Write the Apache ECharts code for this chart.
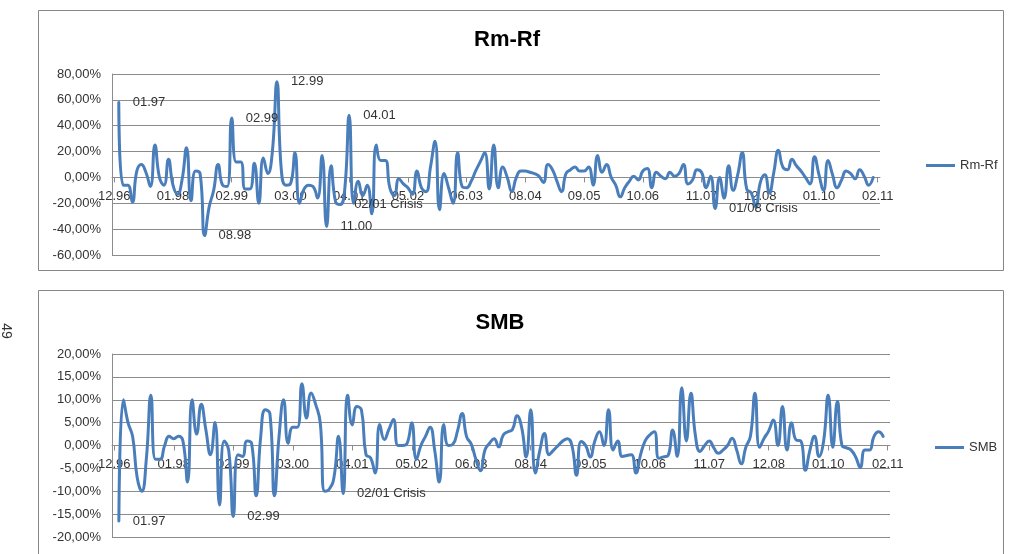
<!DOCTYPE html>
<html lang="en">
<head>
    <meta charset="UTF-8">
    <title>Rm-Rf / SMB</title>
    <script src="https://cdn.jsdelivr.net/npm/echarts@6.0.0/dist/echarts.min.js"></script>
    <style>
        body, html {
            margin: 0;
            padding: 0;
            background: #fff;
        }
        #main {
            width: 1011px;
            height: 554px;
        }
    </style>
</head>
<body>
    <div id="main"></div>
    <script>
        // labels every 13 months on the category axis
        var tickLabels = ['12.96', '01.98', '02.99', '03.00', '04.01', '05.02', '06.03',
            '08.04', '09.05', '10.06', '11.07', '12.08', '01.10', '02.11'];

        // monthly values in %, index 0 = 12.96
        var rmRf = [
            null, 58, -6, -6, -19, 5, 10, 4, -7, 25,
            0, -6, 14, -6, -13, -2, 23, -18, 5, 3,
            -45, -23, -10, 10, -6, -7, 46, 12, 12, -9,
            -9, 11, -20, 15, 3, 20, 74, 5, -6, -5,
            19, -20, -9, -6, -7, -16, 17, -38, 9, -19,
            -21, -10, 48, -20, -3, -14, -6, -28, 25, 13,
            13, -8, -14, -1, -5, -8, -13, 5, -8, -11,
            8, 28, -25, 3, -8, -20, 19, -7, -8, -3,
            5, 12, 19, -9, 25, -8, 8, 0, -11, 0,
            5, 5, 4, 3, 1, -4, 10, 6, -3, -11,
            3, 6, 8, 5, 5, 8, -6, 17, 4, 10,
            0, -6, -15, -8, -3, 1, -2, 5, 7, -8,
            4, 1, -1, 4, 1, 3, 10, -5, -2, 6,
            4, -8, 1, -24, 0, -16, 9, -10, 2, 19,
            -9, -12, -23, -4, 2, -12, 4, 21, 8, 6,
            14, 9, 5, 0, -5, 16, 2, -10, 13, 2,
            -8, -2, 5, 3, -1, 6, 1, -6, 0, null
        ];

        var smb = [
            null, -16.5, 10, 5, 2, -7, -10, -3, 11, -3,
            -3, 0, 2, 1.5, 2, 1, -8, 10, 2.5, 9,
            3.5, -2, 5, -13, 1, -1, -15.5, -2, -2.4, 1,
            0.5, -11, 2, 7.8, 7, -11, 2, 10, 0.5, 4,
            4, 13.5, 6, 11.5, 9, 5, -10, -9.5, -7, 2,
            -10.5, 11, 4.5, 8.5, 7.8, -2, -2.7, -6, 4.6, 1.3,
            3.5, 5.7, 0, 0, 0.5, 5, -3, 0, 2, 4,
            -1, -8, 4.6, 0, 0.3, 3.2, 7, 1.9, 0.3, -3,
            -5.5, -1, 0.5, 1.5, -0.3, 2.3, 3, 3.5, 6.5, 4,
            -2.5, 7.8, -6, -1, 2.6, -2, -1, 0, 1, 1.5,
            0, -6.5, 0.9, 0, -2.5, 1, 3, 0, 7.8, -1,
            1, -2.4, -2.2, -2, -6, -2, 1, 2.3, 3, -2.8,
            -2.5, -2.2, 3.4, -2.4, 12.6, 1, 11.4, 2, -1.3, 0,
            1, -0.5, -1.7, -1, 0, 1.6, -1, -4, -0.4, 2,
            11.4, -0.4, 1.6, 3.2, 5.6, 0, 8.5, -1, 5, 1.2,
            1, -5.4, -1, 2, -2.4, 1, 11, -0.4, 9.6, 0,
            -0.5, -1, -2.5, -4.8, -1, -1, 2, 3, 2, null
        ];

        // point annotations: [month index, text]
        var rmRfNotes = [[1, '01.97'], [20, '08.98'], [26, '02.99'], [36, '12.99'],
            [47, '11.00'], [50, '02/01 Crisis'], [52, '04.01'], [133, '01/08 Crisis']];
        var smbNotes = [[1, '01.97'], [26, '02.99'], [50, '02/01 Crisis']];

        var months = rmRf.map(function (v, i) { return String(i); });

        var blue = '#4a7ebb';
        var gridGray = '#8c8c8c';
        var textColor = '#333';
        var font = 'Liberation Sans';

        var grids = [
            { left: 112, top: 74, width: 768, height: 181 },
            { left: 112, top: 354, width: 778, height: 183 }
        ];
        var ranges = [[-60, 80, 20], [-20, 20, 5]];

        function withNotes(values, notes) {
            var data = values.slice();
            notes.forEach(function (n) {
                data[n[0]] = {
                    value: values[n[0]],
                    label: { show: true, formatter: n[1] }
                };
            });
            return data;
        }

        function pct(v) {
            return v.toFixed(2).replace('.', ',') + '%';
        }

        // category axis crosses the value axis at 0, labels sit just under it
        function xAxisFor(i) {
            var r = ranges[i];
            var lift = grids[i].height * (0 - r[0]) / (r[1] - r[0]);
            return {
                type: 'category',
                gridIndex: i,
                data: months,
                boundaryGap: true,
                offset: -lift,
                axisLine: { onZero: false, lineStyle: { color: gridGray, width: 1 } },
                axisTick: { show: true, interval: 12, alignWithLabel: true, length: 5, lineStyle: { color: gridGray } },
                axisLabel: {
                    interval: 12,
                    margin: 12,
                    color: textColor,
                    fontFamily: font,
                    fontSize: 13,
                    formatter: function (v, k) { return tickLabels[k / 13]; }
                },
                splitLine: { show: false }
            };
        }

        function yAxisFor(i) {
            var r = ranges[i];
            return {
                type: 'value',
                gridIndex: i,
                min: r[0],
                max: r[1],
                interval: r[2],
                axisLine: { show: true, onZero: false, lineStyle: { color: gridGray } },
                axisTick: { show: false },
                axisLabel: { formatter: pct, color: textColor, fontFamily: font, fontSize: 13, margin: 11 },
                splitLine: { show: true, lineStyle: { color: gridGray, width: 1 } }
            };
        }

        function lineSeries(name, values, notes, idx) {
            return {
                name: name,
                type: 'line',
                xAxisIndex: idx,
                yAxisIndex: idx,
                data: withNotes(values, notes),
                smooth: 0.5,
                symbol: 'circle',
                symbolSize: 0,
                showAllSymbol: true,
                connectNulls: false,
                color: blue,
                lineStyle: { color: blue, width: 3, join: 'round', cap: 'round' },
                label: {
                    show: false,
                    position: 'right',
                    distance: 14,
                    color: textColor,
                    fontFamily: font,
                    fontSize: 13
                },
                emphasis: { disabled: true },
                z: 3
            };
        }

        var option = {
            backgroundColor: '#fff',
            animation: false,
            textStyle: { fontFamily: font },
            title: [
                { text: 'Rm-Rf', left: 502, top: 24, textAlign: 'center',
                  textStyle: { fontSize: 22, fontWeight: 'bold', color: '#000', fontFamily: font } },
                { text: 'SMB', left: 495, top: 307, textAlign: 'center',
                  textStyle: { fontSize: 22, fontWeight: 'bold', color: '#000', fontFamily: font } }
            ],
            legend: [
                { data: ['Rm-Rf'], left: 921, top: 154, icon: 'rect', itemWidth: 29, itemHeight: 3,
                  textStyle: { color: textColor, fontSize: 13, fontFamily: font } },
                { data: ['SMB'], left: 930, top: 436, icon: 'rect', itemWidth: 29, itemHeight: 3,
                  textStyle: { color: textColor, fontSize: 13, fontFamily: font } }
            ],
            grid: grids,
            xAxis: [xAxisFor(0), xAxisFor(1)],
            yAxis: [yAxisFor(0), yAxisFor(1)],
            series: [
                lineSeries('Rm-Rf', rmRf, rmRfNotes, 0),
                lineSeries('SMB', smb, smbNotes, 1)
            ],
            graphic: [
                { type: 'rect', shape: { x: 38.5, y: 10.5, width: 965, height: 260 },
                  style: { fill: 'none', stroke: '#868686', lineWidth: 1 }, silent: true },
                { type: 'rect', shape: { x: 38.5, y: 290.5, width: 965, height: 280 },
                  style: { fill: 'none', stroke: '#868686', lineWidth: 1 }, silent: true },
                { type: 'text', x: 6, y: 331, rotation: -Math.PI / 2,
                  style: { text: '49', fill: '#333', font: '14px "Liberation Sans"', textAlign: 'center', textVerticalAlign: 'middle' } }
            ]
        };

        var chart = echarts.init(document.getElementById('main'));
        chart.setOption(option);
    </script>
</body>
</html>
